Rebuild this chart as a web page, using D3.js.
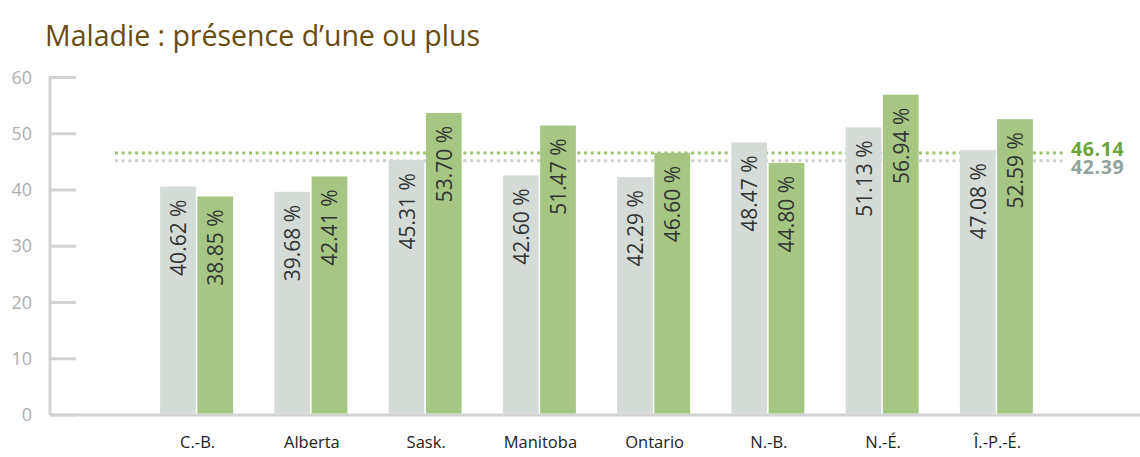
<!DOCTYPE html>
<html>
<head>
<meta charset="utf-8">
<script src="https://cdn.jsdelivr.net/npm/d3@7"></script>
<style>
  body { margin: 0; background: #fff; }
  text { font-family: "Open Sans", sans-serif; }
</style>
</head>
<body>
<div id="chart"></div>
<script>
var categories = ["C.-B.", "Alberta", "Sask.", "Manitoba", "Ontario", "N.-B.", "N.-É.", "Î.-P.-É."];
var grayValues = [40.62, 39.68, 45.31, 42.60, 42.29, 48.47, 51.13, 47.08];
var greenValues = [38.85, 42.41, 53.70, 51.47, 46.60, 44.80, 56.94, 52.59];
var yTicks = [0, 10, 20, 30, 40, 50, 60];
// reference lines: label text and level as drawn in the picture
var refLabels = ["46.14", "42.39"];
var refLevels = [46.6, 45.2];
var refColors = ["#9cc46c", "#c9d1cd"];
var refTextColors = ["#6ba33a", "#8fa39c"];

var width = 1140, height = 457;

var svg = d3.select("#chart")
    .append("svg")
    .attr("width", width)
    .attr("height", height);

var y = d3.scaleLinear()
    .domain([0, 60])
    .range([415, 77.5]);

var x0 = d3.scaleBand()
    .domain(categories)
    .range([139.5, 1053.5]);

var x1 = d3.scaleBand()
    .domain(["gray", "green"])
    .range([0, 73])
    .paddingInner(0.04);

// title
svg.append("text")
    .attr("x", 45)
    .attr("y", 46)
    .attr("fill", "#6b4a10")
    .style("font-size", "28.5px")
    .text("Maladie : présence d\u2019une ou plus");

// y axis
var axisColor = "#d3d3d3";
svg.append("line")
    .attr("x1", 50).attr("x2", 50)
    .attr("y1", y(60) - 1.5).attr("y2", y(0))
    .attr("stroke", axisColor)
    .attr("stroke-width", 3);

svg.selectAll(".tick-line")
    .data(yTicks)
    .enter()
    .append("line")
    .attr("class", "tick-line")
    .attr("x1", 50).attr("x2", 76)
    .attr("y1", function(d) { return y(d); })
    .attr("y2", function(d) { return y(d); })
    .attr("stroke", axisColor)
    .attr("stroke-width", 3);

svg.selectAll(".tick-label")
    .data(yTicks)
    .enter()
    .append("text")
    .attr("class", "tick-label")
    .attr("x", 32)
    .attr("y", function(d) { return y(d) + 6; })
    .attr("text-anchor", "end")
    .attr("fill", "#aeaeae")
    .style("font-size", "18px")
    .text(function(d) { return d; });

// baseline
svg.append("line")
    .attr("x1", 50).attr("x2", width)
    .attr("y1", y(0)).attr("y2", y(0))
    .attr("stroke", axisColor)
    .attr("stroke-width", 3);

// reference lines (behind the bars)
refLevels.forEach(function(v, i) {
    svg.append("line")
        .attr("x1", 115).attr("x2", 1066)
        .attr("y1", y(v)).attr("y2", y(v))
        .attr("stroke", refColors[i])
        .attr("stroke-width", 3)
        .attr("stroke-dasharray", "3,3.7");
    svg.append("text")
        .attr("x", 1071)
        .attr("y", y(v) + (i === 0 ? 3 : 13.5))
        .attr("fill", refTextColors[i])
        .style("font-size", "19.5px")
        .style("font-weight", "bold")
        .style("letter-spacing", "0.6px")
        .text(refLabels[i]);
});

// bars
var groups = svg.selectAll(".group")
    .data(categories)
    .enter()
    .append("g")
    .attr("class", "group")
    .attr("transform", function(d) {
        return "translate(" + (x0(d) + (x0.bandwidth() - 73) / 2) + ",0)";
    });

var series = [
    {key: "gray", values: grayValues, color: "#d5dcd8"},
    {key: "green", values: greenValues, color: "#a6c784"}
];

series.forEach(function(s) {
    groups.append("rect")
        .attr("x", x1(s.key))
        .attr("width", x1.bandwidth())
        .attr("y", function(d, i) { return y(s.values[i]); })
        .attr("height", function(d, i) { return y(0) - 1.5 - y(s.values[i]); })
        .attr("fill", s.color);
});

// value labels
series.forEach(function(s) {
    groups.append("text")
        .attr("transform", function(d, i) {
            var cx = x1(s.key) + x1.bandwidth() / 2 + 8;
            var cy = y(s.values[i]) + 13;
            return "translate(" + cx + "," + cy + ") rotate(-90)";
        })
        .attr("text-anchor", "end")
        .attr("fill", "#333")
        .style("font-size", "21px")
        .text(function(d, i) { return s.values[i].toFixed(2) + " %"; });
});

// category labels
svg.selectAll(".cat-label")
    .data(categories)
    .enter()
    .append("text")
    .attr("class", "cat-label")
    .attr("x", function(d) { return x0(d) + x0.bandwidth() / 2 + 1; })
    .attr("y", 448)
    .attr("text-anchor", "middle")
    .attr("fill", "#222")
    .style("font-size", "16.5px")
    .text(function(d) { return d; });
</script>
</body>
</html>
